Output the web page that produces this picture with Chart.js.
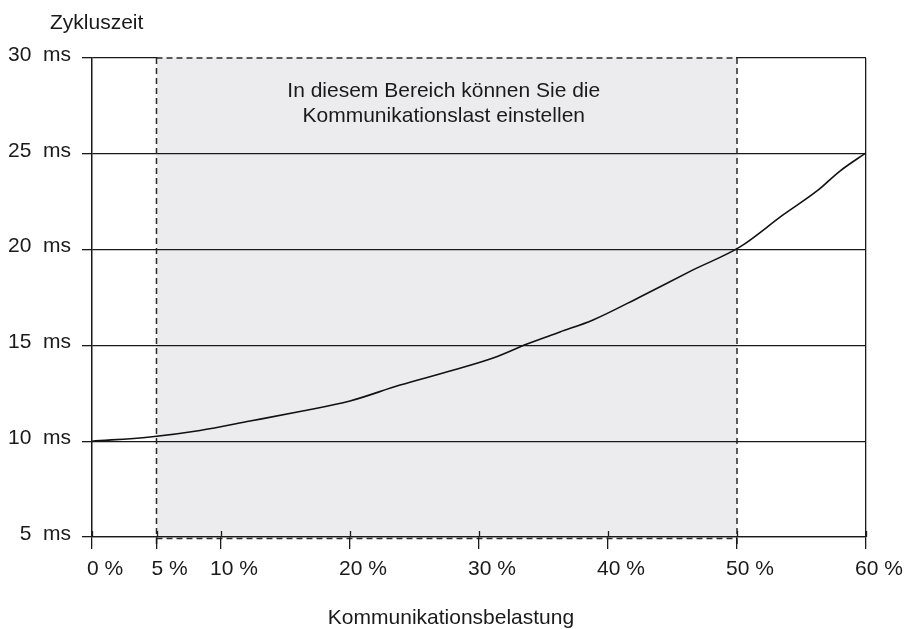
<!DOCTYPE html>
<html>
<head>
<meta charset="utf-8">
<script src="https://cdn.jsdelivr.net/npm/chart.js@4.4.1/dist/chart.umd.min.js"></script>
<style>
  html, body { margin: 0; padding: 0; background: #ffffff; }
  #wrap { width: 907px; height: 629px; position: relative; }
</style>
</head>
<body>
<div id="wrap"><canvas id="c" width="907" height="629"></canvas></div>
<script>
// ---- data ----
const loadPercent = [0, 4.5, 8.37, 12.25, 16.12, 20, 23.88, 27.75, 31.09, 33.72, 36.28, 38.84, 42.48, 46.59, 50.23, 53.57, 56.2, 57.98, 60];
const cycleTimeMs = [10.0, 10.22, 10.56, 11.05, 11.55, 12.1, 12.93, 13.66, 14.34, 15.07, 15.7, 16.33, 17.53, 18.94, 20.14, 21.81, 23.06, 24.1, 25.05];
const xTicks = [0, 5, 10, 20, 30, 40, 50, 60];
const yTicks = [5, 10, 15, 20, 25, 30];
const regionRange = [5, 50];
const regionText = ["In diesem Bereich können Sie die", "Kommunikationslast einstellen"];
const yTitle = "Zykluszeit";
const xTitle = "Kommunikationsbelastung";

const FONT = '"Liberation Sans", Arial, Helvetica, sans-serif';
const INK = '#1a1a1a';
const SHADE = '#ececee';

function dashed(ctx) {
  ctx.strokeStyle = '#2a2a2a';
  ctx.lineWidth = 1.5;
  ctx.setLineDash([6, 4]);
}

const regionPlugin = {
  id: 'region',
  beforeDraw(chart) {
    const { ctx, chartArea } = chart;
    const xs = chart.scales.x;
    const x0 = xs.getPixelForValue(regionRange[0]);
    const x1 = xs.getPixelForValue(regionRange[1]);
    const top = chartArea.top, bottom = chartArea.bottom;
    ctx.save();
    ctx.fillStyle = SHADE;
    ctx.fillRect(x0, top, x1 - x0, bottom - top);
    dashed(ctx);
    ctx.beginPath();
    ctx.moveTo(x0, top); ctx.lineTo(x0, bottom + 10);
    ctx.moveTo(x1, top); ctx.lineTo(x1, bottom + 10);
    ctx.moveTo(x0, bottom + 1.5); ctx.lineTo(x1, bottom + 1.5);
    ctx.stroke();
    ctx.restore();
  },
  beforeDatasetsDraw(chart) {
    const { ctx, chartArea } = chart;
    const xs = chart.scales.x;
    const x0 = xs.getPixelForValue(regionRange[0]);
    const x1 = xs.getPixelForValue(regionRange[1]);
    const top = chartArea.top;
    ctx.save();
    // the top edge of the region is a dashed line instead of the solid grid line
    ctx.fillStyle = SHADE;
    ctx.fillRect(x0 + 1, top - 1.5, x1 - x0 - 2, 3);
    ctx.fillStyle = '#ffffff';
    ctx.fillRect(x0 + 1, top - 1.5, x1 - x0 - 2, 1);
    dashed(ctx);
    ctx.beginPath();
    ctx.moveTo(x0, top); ctx.lineTo(x1, top);
    ctx.stroke();
    ctx.restore();
  },
  afterDraw(chart) {
    const { ctx, chartArea } = chart;
    const xs = chart.scales.x;
    ctx.save();
    // small upward tick parts crossing the axis
    ctx.strokeStyle = INK;
    ctx.lineWidth = 1.3;
    ctx.beginPath();
    xTicks.forEach(v => {
      const px = Math.round(xs.getPixelForValue(v)) + 0.5;
      ctx.moveTo(px, chartArea.bottom - 6);
      ctx.lineTo(px, chartArea.bottom);
    });
    ctx.stroke();
    // texts
    ctx.fillStyle = INK;
    ctx.font = '21px ' + FONT;
    ctx.textBaseline = 'alphabetic';
    const xm = (xs.getPixelForValue(regionRange[0]) + xs.getPixelForValue(regionRange[1])) / 2 - 3;
    ctx.textAlign = 'center';
    ctx.fillText(regionText[0], xm, chartArea.top + 39);
    ctx.fillText(regionText[1], xm, chartArea.top + 64);
    ctx.textAlign = 'left';
    ctx.fillText(yTitle, chartArea.left - 42, chartArea.top - 29);
    ctx.textAlign = 'center';
    ctx.fillText(xTitle, (chartArea.left + chartArea.right) / 2 - 28, chartArea.bottom + 87);
    ctx.restore();
  }
};

new Chart(document.getElementById('c'), {
  type: 'line',
  data: {
    datasets: [{
      data: loadPercent.map((x, i) => ({ x: x, y: cycleTimeMs[i] })),
      borderColor: '#111111',
      borderWidth: 1.6,
      pointRadius: 0,
      fill: false,
      cubicInterpolationMode: 'monotone'
    }]
  },
  options: {
    responsive: false,
    animation: false,
    devicePixelRatio: 1,
    layout: { padding: { left: 0, right: 41, top: 58, bottom: 0 } },
    plugins: { legend: { display: false }, tooltip: { enabled: false } },
    scales: {
      x: {
        type: 'linear',
        min: 0, max: 60,
        afterFit(s) { s.height = 92; },
        afterBuildTicks(s) { s.ticks = xTicks.map(v => ({ value: v })); },
        ticks: {
          callback: v => v + ' %',
          font: { family: FONT, size: 21 },
          color: INK,
          padding: 8,
          labelOffset: 13,
          maxRotation: 0,
          autoSkip: false
        },
        grid: {
          drawOnChartArea: true,
          color: c => (c.tick && (c.tick.value === 0 || c.tick.value === 60)) ? INK : 'rgba(0,0,0,0)',
          tickColor: INK,
          lineWidth: 1.3,
          tickLength: 12
        },
        border: { display: true, color: INK, width: 1.3 }
      },
      y: {
        type: 'linear',
        min: 5, max: 30,
        afterFit(s) { s.width = 92; },
        afterBuildTicks(s) { s.ticks = yTicks.map(v => ({ value: v })); },
        ticks: {
          callback: v => v + '  ms',
          font: { family: FONT, size: 21 },
          color: INK,
          padding: 11,
          labelOffset: -3
        },
        grid: {
          color: INK,
          lineWidth: 1.3,
          tickLength: 10
        },
        border: { display: true, color: INK, width: 1.3 }
      }
    }
  },
  plugins: [regionPlugin]
});
</script>
</body>
</html>
